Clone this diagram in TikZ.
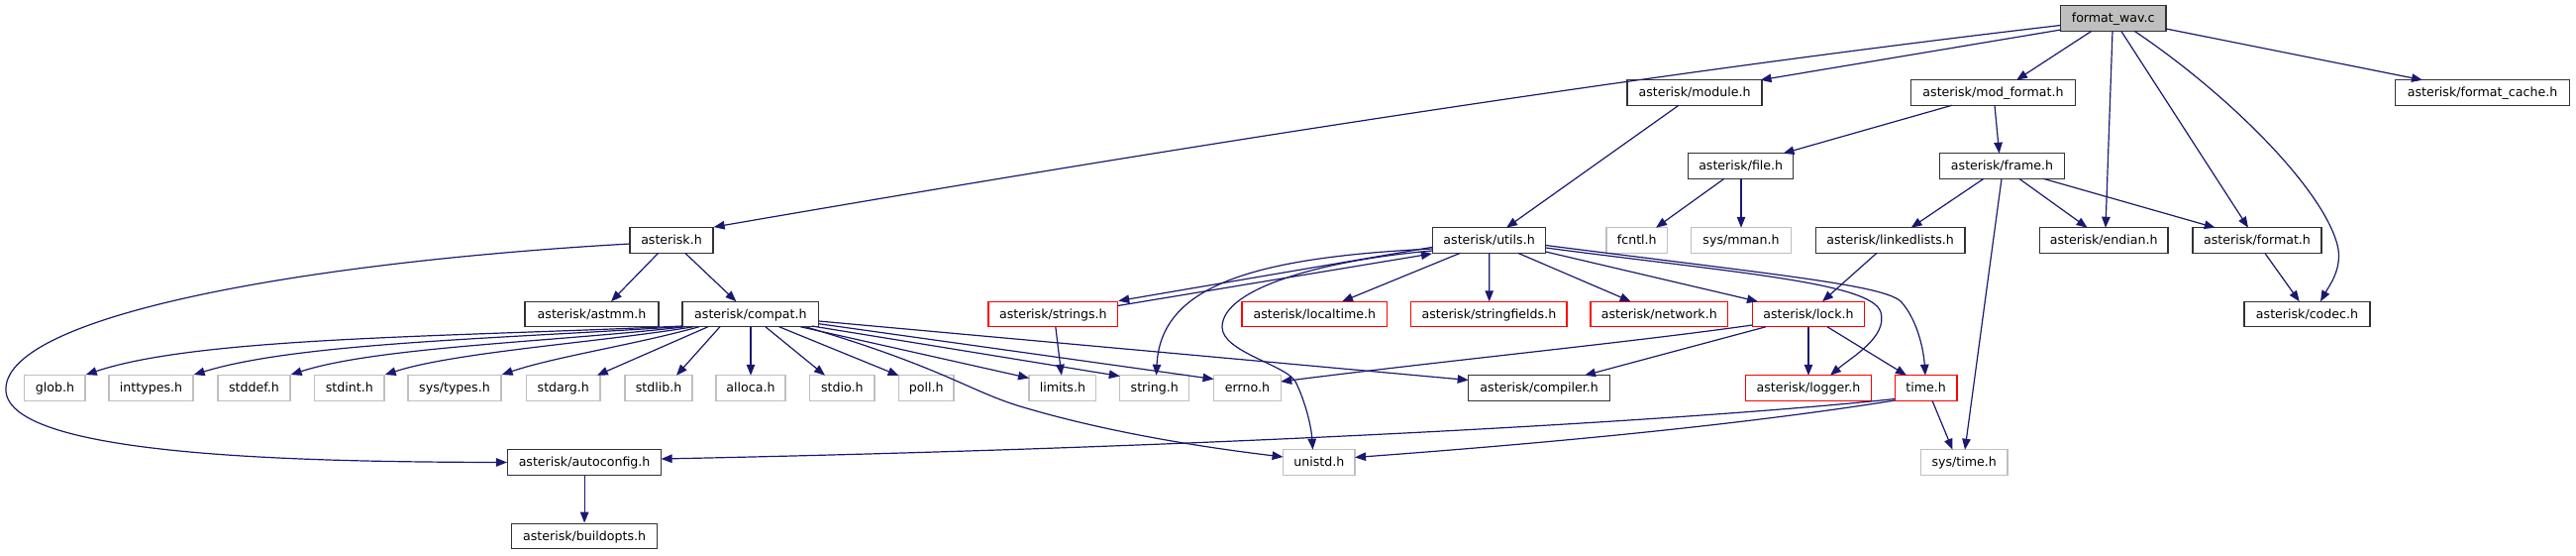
\documentclass[tikz,border=0pt]{standalone}
\usepackage{fontspec}
\newfontfamily\djfont{DejaVu Sans}
\usetikzlibrary{arrows.meta,calc}
\definecolor{edgeblue}{HTML}{191970}
\definecolor{greyb}{HTML}{BFBFBF}
\definecolor{boxdark}{HTML}{333333}
\tikzset{
  nd/.style={draw=boxdark, line width=1.3pt, rectangle, inner sep=0pt,
    minimum height=25.5pt, text height=9.5pt, text depth=1.5pt,
    font={\djfont\fontsize{12.6}{15}\selectfont}},
  sysbox/.style={nd, draw=greyb},
  trunc/.style={nd, draw=red},
  rootbox/.style={nd, fill=greyb},
  dep/.style={draw=edgeblue, line width=1.2pt, -{Triangle[length=11pt,width=8.5pt]}},
}
\begin{document}
\begin{tikzpicture}[x=1pt,y=-1pt]
\useasboundingbox (0,0) rectangle (2601,560);
% row A
\node[rootbox, minimum width=106.5pt] (wav) at (2133.7,18.5) {format\_wav.c};
% row B
\node[nd, minimum width=136pt] (module) at (1711,93.5) {asterisk/module.h};
\node[nd, minimum width=166pt] (modformat) at (2012.5,93.5) {asterisk/mod\_format.h};
\node[nd, minimum width=175.7pt] (fcache) at (2506.5,93.5) {asterisk/format\_cache.h};
% row C
\node[nd, minimum width=106pt] (file) at (1757.7,167.5) {asterisk/file.h};
\node[nd, minimum width=126pt] (frame) at (2021.5,167.5) {asterisk/frame.h};
% row D
\node[nd, minimum width=84pt] (asterisk) at (678,242.5) {asterisk.h};
\node[nd, minimum width=114pt] (utils) at (1503.6,242.5) {asterisk/utils.h};
\node[sysbox, minimum width=61.6pt] (fcntl) at (1652.8,242.5) {fcntl.h};
\node[sysbox, minimum width=101pt] (mman) at (1758,242.5) {sys/mman.h};
\node[nd, minimum width=150.7pt] (linked) at (1908.6,242.5) {asterisk/linkedlists.h};
\node[nd, minimum width=129.6pt] (endian) at (2124.2,242.5) {asterisk/endian.h};
\node[nd, minimum width=130pt] (format) at (2279,242.5) {asterisk/format.h};
% row E
\node[nd, minimum width=135pt] (astmm) at (597.5,317) {asterisk/astmm.h};
\node[nd, minimum width=137.7pt] (compat) at (757.9,317) {asterisk/compat.h};
\node[trunc, minimum width=130.5pt] (strings) at (1063.3,317) {asterisk/strings.h};
\node[trunc, minimum width=146.6pt] (localtime) at (1327.3,317) {asterisk/localtime.h};
\node[trunc, minimum width=157.3pt] (stringfields) at (1503.4,317) {asterisk/stringfields.h};
\node[trunc, minimum width=138.6pt] (network) at (1675.3,317) {asterisk/network.h};
\node[trunc, minimum width=113.4pt] (lock) at (1826,317) {asterisk/lock.h};
\node[nd, minimum width=127pt] (codec) at (2329.5,317) {asterisk/codec.h};
% row F
\node[sysbox, minimum width=61.3pt] (glob) at (55.4,391.5) {glob.h};
\node[sysbox, minimum width=85pt] (inttypes) at (152.5,391.5) {inttypes.h};
\node[sysbox, minimum width=73pt] (stddef) at (256.5,391.5) {stddef.h};
\node[sysbox, minimum width=70.5pt] (stdint) at (352.8,391.5) {stdint.h};
\node[sysbox, minimum width=94pt] (systypes) at (459,391.5) {sys/types.h};
\node[sysbox, minimum width=74.4pt] (stdarg) at (568.8,391.5) {stdarg.h};
\node[sysbox, minimum width=68pt] (stdlib) at (665,391.5) {stdlib.h};
\node[sysbox, minimum width=70pt] (alloca) at (758,391.5) {alloca.h};
\node[sysbox, minimum width=65.5pt] (stdio) at (850.3,391.5) {stdio.h};
\node[sysbox, minimum width=55.5pt] (poll) at (935.3,391.5) {poll.h};
\node[sysbox, minimum width=67.7pt] (limits) at (1072.9,391.5) {limits.h};
\node[sysbox, minimum width=70pt] (string) at (1165.8,391.5) {string.h};
\node[sysbox, minimum width=67.7pt] (errno) at (1259.4,391.5) {errno.h};
\node[nd, minimum width=143pt] (compiler) at (1554.2,391.5) {asterisk/compiler.h};
\node[trunc, minimum width=126.6pt] (logger) at (1826,391.5) {asterisk/logger.h};
\node[trunc, minimum width=62.7pt] (time) at (1944.7,391.5) {time.h};
% row G
\node[nd, minimum width=155pt] (autoconfig) at (590.1,466.5) {asterisk/autoconfig.h};
\node[sysbox, minimum width=72.5pt] (unistd) at (1331.8,466.5) {unistd.h};
\node[sysbox, minimum width=87.6pt] (systime) at (1983.2,466.5) {sys/time.h};
% row H
\node[nd, minimum width=147pt] (buildopts) at (590.1,541) {asterisk/buildopts.h};

% edges from format_wav.c
\draw[dep] ($(wav)+(-53,7)$) .. controls (1630,78) and (1150,155) .. (asterisk.north east);
\draw[dep] ($(wav)+(-52.7,11.5)$) -- ($(module)+(66.5,-12.75)$);
\draw[dep] ($(wav)+(-21.7,12.75)$) -- ($(modformat)+(23.5,-12.75)$);
\draw[dep] ($(wav)+(-0.7,12.75)$) -- ($(endian)+(1.8,-12.75)$);
\draw[dep] ($(wav)+(8,12.75)$) -- ($(format)+(-9,-12.75)$);
\draw[dep] ($(wav)+(21.3,12.75)$) .. controls (2250,95) and (2345,190) .. (2360,247) .. controls (2366,270) and (2352,288) .. ($(codec)+(13.5,-12.75)$);
\draw[dep] ($(wav)+(53.3,10.5)$) -- ($(fcache)+(-60.5,-12.75)$);
% asterisk.h
\draw[dep] ($(asterisk)+(-13.3,12.75)$) -- ($(astmm)+(19.5,-12.75)$);
\draw[dep] ($(asterisk)+(13.7,12.75)$) -- ($(compat)+(-14.5,-12.75)$);
\draw[dep] ($(asterisk)+(-42,3.5)$) .. controls (300,265) and (0,320) .. (6,395) .. controls (12,460) and (300,466) .. (autoconfig.west);
% module / mod_format / file / frame
\draw[dep] ($(module)+(-16,12.75)$) -- ($(utils)+(17.4,-12.75)$);
\draw[dep] ($(modformat)+(-41.5,12.75)$) -- ($(file)+(42.8,-12.75)$);
\draw[dep] ($(modformat)+(1.5,12.75)$) -- ($(frame)+(-2.9,-12.75)$);
\draw[dep] ($(file)+(-16.7,12.75)$) -- ($(fcntl)+(19.2,-12.75)$);
\draw[dep] ($(file)+(0.3,12.75)$) -- ($(mman)+(0,-12.75)$);
\draw[dep] ($(frame)+(-18.5,12.75)$) -- ($(linked)+(21,-12.75)$);
\draw[dep] ($(frame)+(17.2,12.75)$) -- ($(endian)+(-16.6,-12.75)$);
\draw[dep] ($(frame)+(41.5,12.75)$) -- ($(format)+(-42.3,-12.75)$);
\draw[dep] ($(frame)+(-0.5,12.75)$) -- ($(systime)+(0.8,-12.75)$);
\draw[dep] ($(format)+(7.7,12.75)$) -- ($(codec)+(-7.8,-12.75)$);
\draw[dep] ($(linked)+(-13.6,12.75)$) -- ($(lock)+(14,-12.75)$);
% utils.h
\draw[dep] ($(utils)+(-57.1,6.8)$) -- (strings.north east);
\draw[dep] ($(strings)+(65.25,-8.5)$) -- (utils.south west);
\draw[dep] ($(utils)+(-57.1,8.5)$) .. controls (1260,260) and (1172,290) .. ($(string)+(1.7,-12.75)$);
\draw[dep] ($(utils)+(-57.1,10.5)$) .. controls (1340,262) and (1234,290) .. (1234,330) .. controls (1234,355) and (1298,368) .. (1308,385) .. controls (1318,405) and (1324,430) .. ($(unistd)+(-6.3,-12.75)$);
\draw[dep] ($(utils)+(-29,12.75)$) -- ($(localtime)+(27.7,-12.75)$);
\draw[dep] ($(utils)+(0.1,12.75)$) -- ($(stringfields)+(0.3,-12.75)$);
\draw[dep] ($(utils)+(28.9,12.75)$) -- ($(network)+(-28.6,-12.75)$);
\draw[dep] ($(utils)+(57.1,11.5)$) -- ($(lock)+(-51,-12.75)$);
\draw[dep] ($(utils)+(57.1,7.5)$) .. controls (1750,275) and (1890,285) .. (1899,315) .. controls (1906,340) and (1870,360) .. ($(logger)+(22,-12.75)$);
\draw[dep] ($(utils)+(57.1,5)$) .. controls (1800,278) and (1905,288) .. (1920,305) .. controls (1935,322) and (1942,350) .. ($(time)+(-0.7,-12.75)$);
% lock.h
\draw[dep] ($(lock)+(0,12.75)$) -- ($(logger)+(0,-12.75)$);
\draw[dep] ($(lock)+(19,12.75)$) -- ($(time)+(-19.7,-12.75)$);
\draw[dep] ($(lock)+(-56.7,11)$) .. controls (1650,345) and (1450,365) .. ($(errno)+(33.85,-6.5)$);
\draw[dep] ($(lock)+(-43,12.75)$) -- ($(compiler)+(45.8,-12.75)$);
% time.h
\draw[dep] ($(time)+(6.3,12.75)$) -- ($(systime)+(-11.7,-12.75)$);
\draw[dep] ($(time)+(-31.35,11)$) .. controls (1750,420) and (1300,450) .. ($(autoconfig)+(77.5,-3.5)$);
\draw[dep] ($(time)+(-31.35,12.5)$) .. controls (1750,430) and (1550,448) .. ($(unistd)+(36.25,-5)$);
% compat.h
\draw[dep] ($(compat)+(-68.85,12)$) .. controls (450,340) and (200,340) .. (glob.north east);
\draw[dep] ($(compat)+(-68.85,12.5)$) .. controls (500,342) and (300,346) .. (inttypes.north east);
\draw[dep] ($(compat)+(-66,12.75)$) .. controls (560,345) and (380,350) .. (stddef.north east);
\draw[dep] ($(compat)+(-58,12.75)$) .. controls (610,345) and (460,355) .. (stdint.north east);
\draw[dep] ($(compat)+(-52,12.75)$) .. controls (640,348) and (560,360) .. (systypes.north east);
\draw[dep] ($(compat)+(-43,12.75)$) -- ($(stdarg)+(34,-12.75)$);
\draw[dep] ($(compat)+(-31,12.75)$) -- ($(stdlib)+(18,-12.75)$);
\draw[dep] ($(compat)+(0.1,12.75)$) -- ($(alloca)+(0,-12.75)$);
\draw[dep] ($(compat)+(15,12.75)$) -- ($(stdio)+(-17.3,-12.75)$);
\draw[dep] ($(compat)+(28.8,12.75)$) -- ($(poll)+(-27.75,-12.5)$);
\draw[dep] ($(compat)+(50.4,12.75)$) -- ($(limits)+(-33.85,-10)$);
\draw[dep] ($(compat)+(62,12)$) -- ($(string)+(-35,-12)$);
\draw[dep] ($(compat)+(68.85,9.7)$) -- ($(errno)+(-33.85,-9)$);
\draw[dep] ($(compat)+(68.85,7)$) -- ($(compiler)+(-71.5,-8)$);
\draw[dep] ($(compat)+(55.4,12.75)$) .. controls (950,370) and (980,395) .. (1030,410) .. controls (1120,437) and (1220,452) .. ($(unistd)+(-36.25,-5.5)$);
% others
\draw[dep] ($(strings)+(2.5,12.75)$) -- ($(limits)+(-1.1,-12.75)$);
\draw[dep] (autoconfig.south) -- (buildopts.north);
\end{tikzpicture}
\end{document}
